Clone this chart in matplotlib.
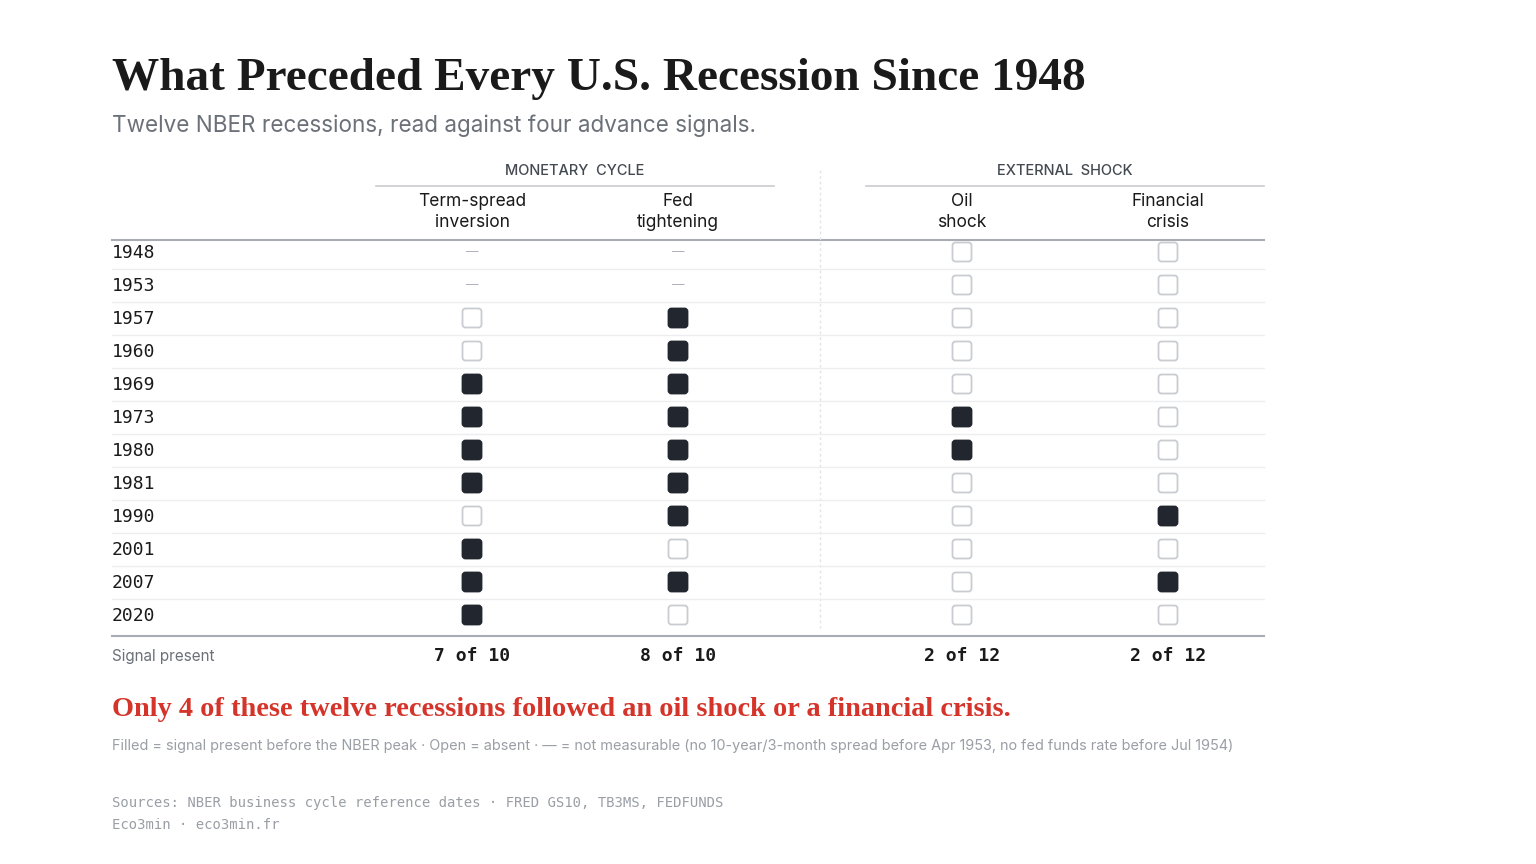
import matplotlib
matplotlib.use("Agg")
import matplotlib.pyplot as plt
from matplotlib.patches import FancyBboxPatch

years = ["1948","1953","1957","1960","1969","1973","1980","1981","1990","2001","2007","2020"]
groups = ["MONETARY  CYCLE", "EXTERNAL  SHOCK"]
columns = ["Term-spread\ninversion", "Fed\ntightening", "Oil\nshock", "Financial\ncrisis"]
# 1 = present, 0 = absent, None = not measurable
term_spread = [None, None, 0, 0, 1, 1, 1, 1, 0, 1, 1, 1]
fed_tight   = [None, None, 1, 1, 1, 1, 1, 1, 1, 0, 1, 0]
oil_shock   = [0, 0, 0, 0, 0, 1, 1, 0, 0, 0, 0, 0]
fin_crisis  = [0, 0, 0, 0, 0, 0, 0, 0, 1, 0, 1, 0]
series = [term_spread, fed_tight, oil_shock, fin_crisis]
totals = ["7 of 10", "8 of 10", "2 of 12", "2 of 12"]

W, H = 1536, 864
fig = plt.figure(figsize=(W/100, H/100), dpi=100)
ax = fig.add_axes([0, 0, 1, 1])
ax.set_xlim(0, W); ax.set_ylim(H, 0); ax.axis("off")

dark = "#22262e"; grey = "#6b7079"; light = "#c9ccd1"
sans = ["Inter", "DejaVu Sans"]; serif = ["Liberation Serif", "DejaVu Serif"]; mono = ["DejaVu Sans Mono"]

ax.text(112, 79, "What Preceded Every U.S. Recession Since 1948", fontsize=34, fontweight="bold",
        family=serif, color="#1a1a1a", va="center")
ax.text(112, 126, "Twelve NBER recessions, read against four advance signals.", fontsize=16.2,
        family=sans, color=grey, va="center")

colx = [472, 678, 962, 1168]
gx = [(376, 774), (866, 1264)]
for (a, b), g in zip(gx, groups):
    ax.text((a+b)/2, 171, g, fontsize=10.5, family=sans, fontweight="medium", color="#444a52",
            ha="center", va="center")
    ax.plot([a, b], [186, 186], color=light, lw=1.2)
for x, c in zip(colx, columns):
    ax.text(x, 212, c, fontsize=12.5, family=sans, color="#1a1a1a", ha="center", va="center", linespacing=1.25)
ax.plot([112, 1264], [240, 240], color="#a9adb3", lw=1.5)
ax.plot([820, 820], [170, 628], color="#e2e4e7", lw=1, ls=(0, (2, 2)))

row0, dy = 252, 33
for i, y in enumerate(years):
    yy = row0 + i*dy
    ax.text(112, yy + 1, y, fontsize=13, family=mono, fontweight="medium", color="#1a1a1a", va="center")
    if i < len(years) - 1:
        ax.plot([112, 1264], [yy+17, yy+17], color="#eceef0", lw=1)
    for x, s in zip(colx, series):
        v = s[i]
        if v is None:
            ax.text(x, yy, "—", fontsize=9, color="#b0b4ba", ha="center", va="center", family=sans)
            continue
        sz = 19
        p = FancyBboxPatch((x - sz/2, yy - sz/2), sz, sz, boxstyle="round,pad=0,rounding_size=3",
                           facecolor=dark if v else "white", edgecolor=dark if v else light, lw=1.3)
        ax.add_patch(p)
ax.plot([112, 1264], [636, 636], color="#a9adb3", lw=1.5)
ax.text(112, 656, "Signal present", fontsize=11, family=sans, color=grey, va="center")
for x, t in zip(colx, totals):
    ax.text(x, 656, t, fontsize=13, family=mono, fontweight="bold", color="#1a1a1a", ha="center", va="center")

ax.text(112, 710, "Only 4 of these twelve recessions followed an oil shock or a financial crisis.",
        fontsize=20.4, family=serif, fontweight="bold", color="#d4342a", va="center")
ax.text(112, 746, "Filled = signal present before the NBER peak · Open = absent · — = not measurable "
        "(no 10-year/3-month spread before Apr 1953, no fed funds rate before Jul 1954)",
        fontsize=10.4, family=sans, color="#9a9ea5", va="center")
ax.text(112, 803, "Sources: NBER business cycle reference dates · FRED GS10, TB3MS, FEDFUNDS",
        fontsize=10, family=mono, color="#9a9ea5", va="center")
ax.text(112, 825, "Eco3min · eco3min.fr", fontsize=10, family=mono, color="#9a9ea5", va="center")

fig.savefig("out.png", dpi=100, facecolor="white")
